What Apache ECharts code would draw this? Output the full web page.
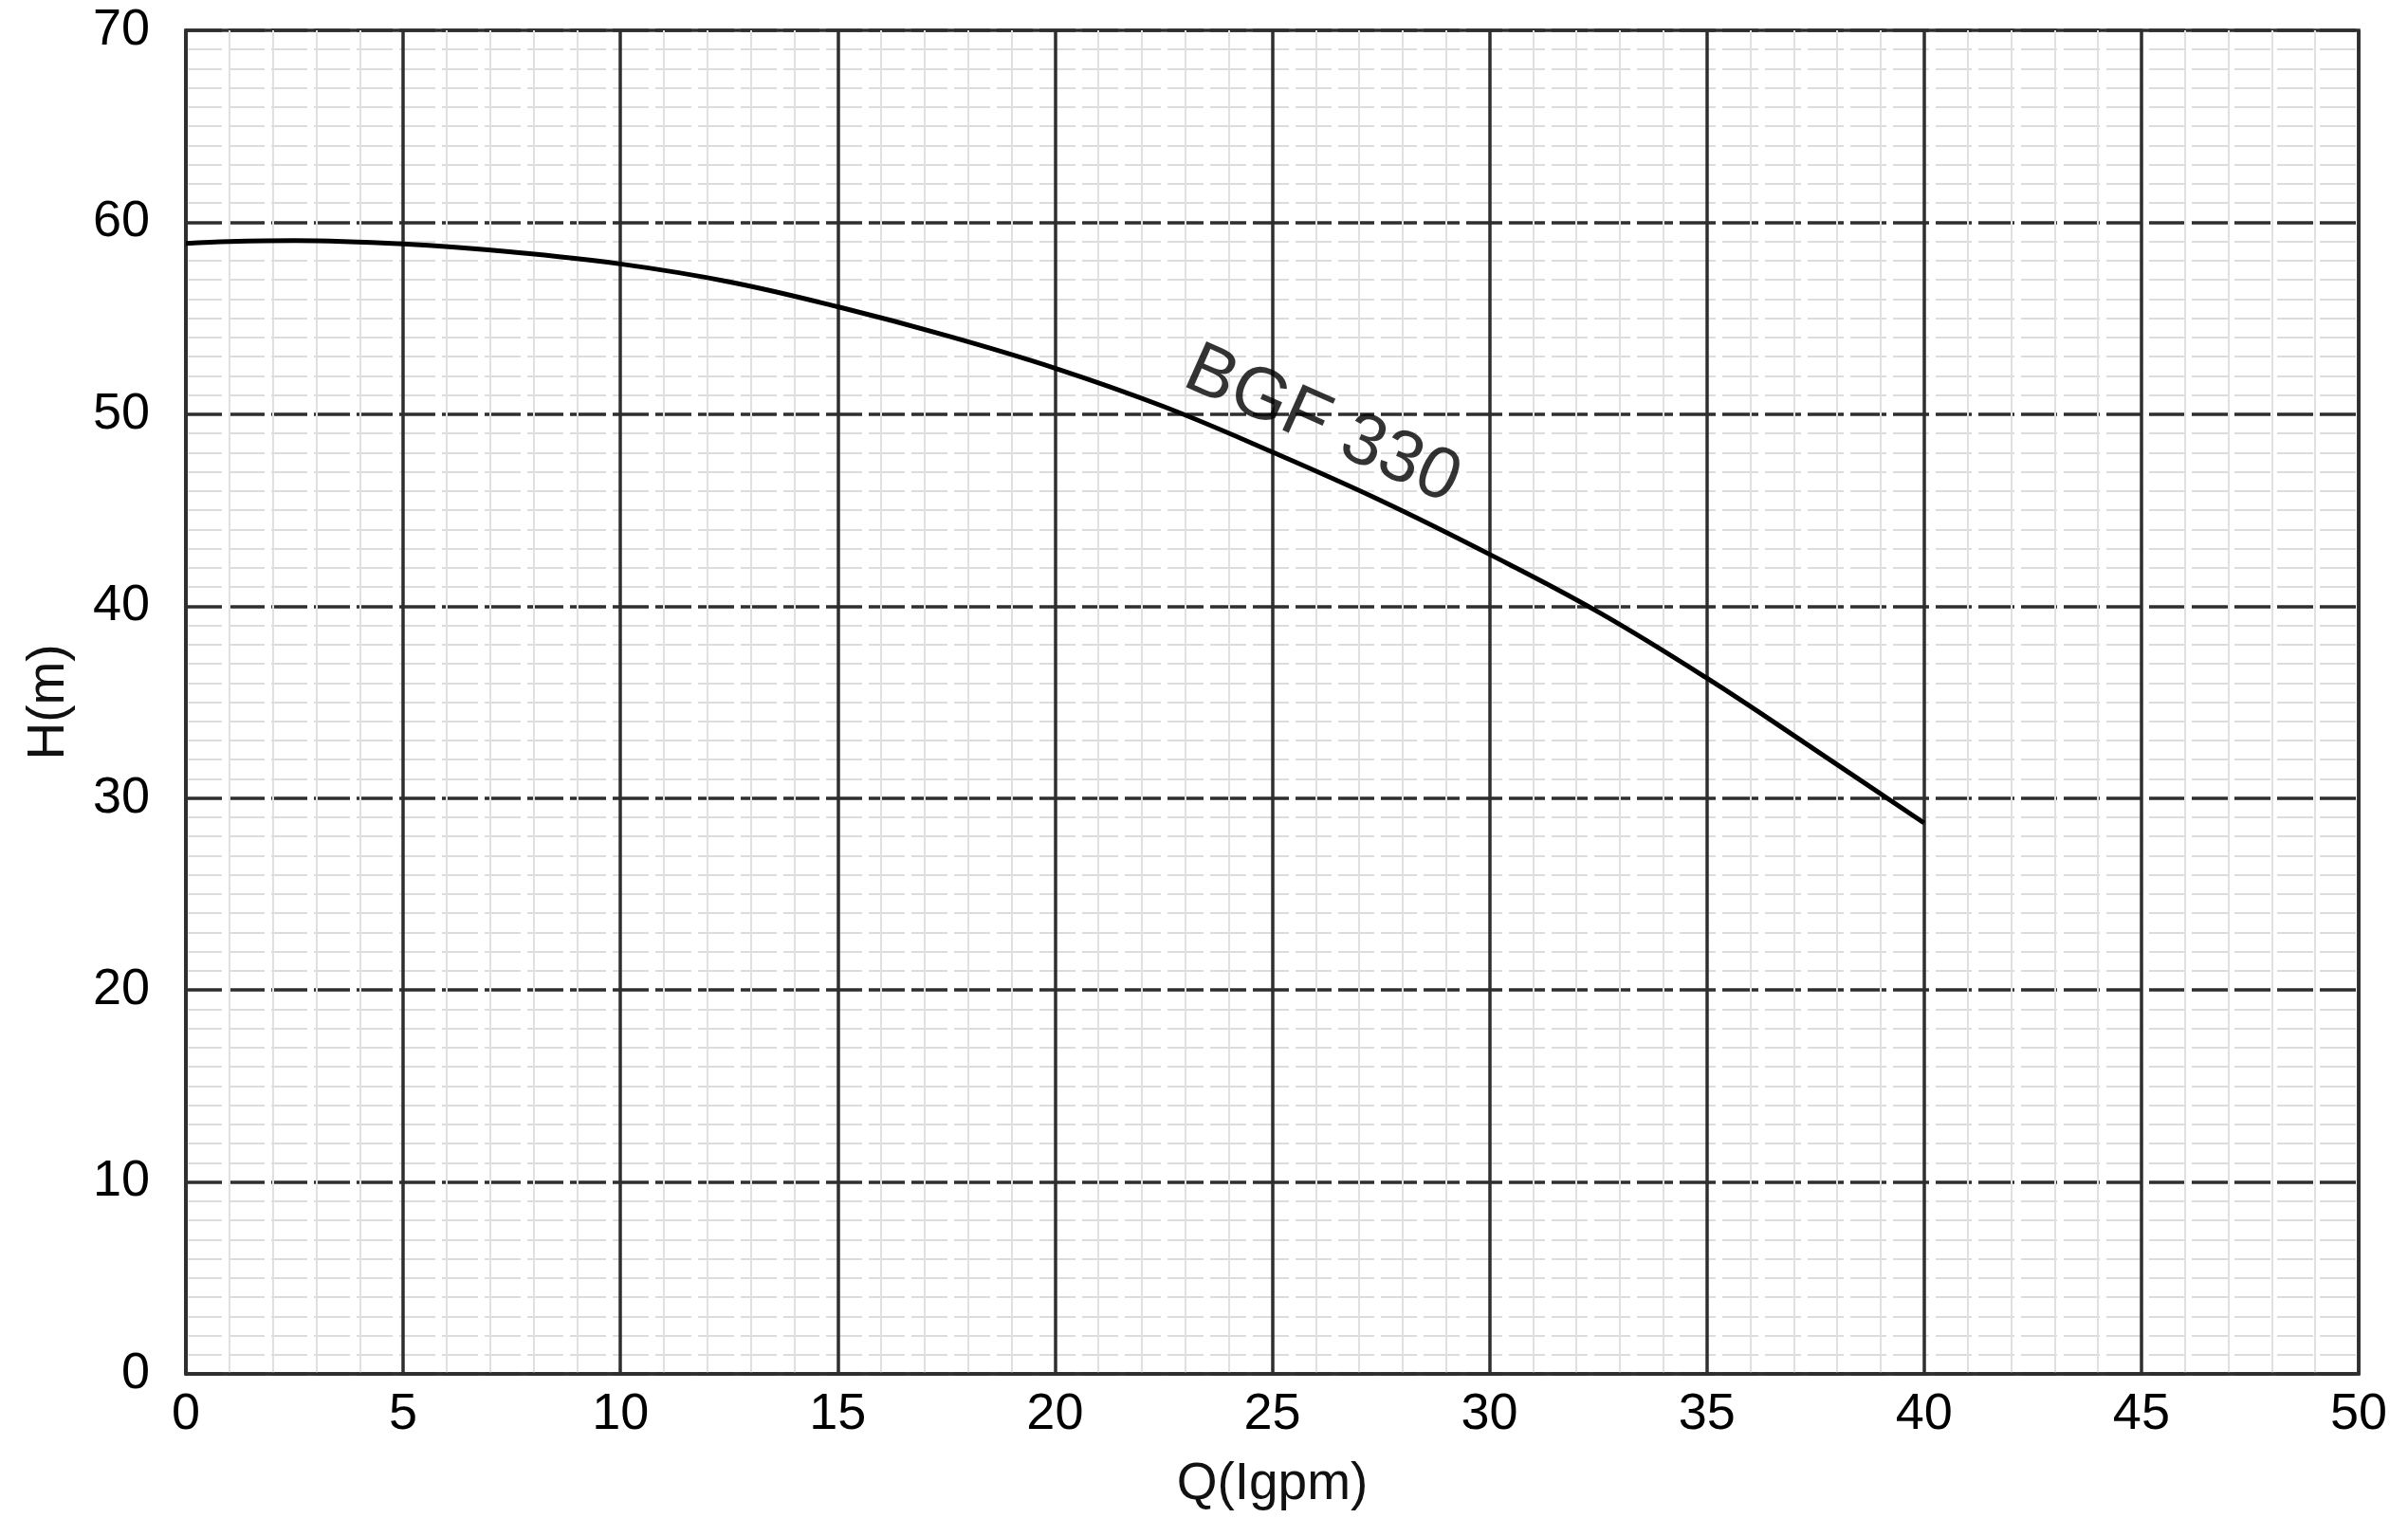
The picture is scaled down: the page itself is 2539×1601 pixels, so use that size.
<!DOCTYPE html>
<html>
<head>
<meta charset="utf-8">
<style>
html,body{margin:0;padding:0;background:#fff;}
#chart{width:2539px;height:1601px;}
</style>
<script src="https://cdn.jsdelivr.net/npm/echarts@6/dist/echarts.min.js"></script>
</head>
<body>
<div id="chart"></div>
<script>
// Data
const flowQ = [0, 1, 2.5, 5, 7.5, 10, 12.5, 15, 17.5, 20, 22.5, 25, 27.5, 30, 32.5, 35, 37.5, 40];
const headH = [58.9, 59.0, 59.05, 58.87, 58.45, 57.83, 56.9, 55.6, 54.1, 52.4, 50.4, 48.03, 45.5, 42.7, 39.7, 36.25, 32.5, 28.7];
const curveName = 'BGF 330';
const curveLabelAt = [26.15, 49.4];
const xName = 'Q(Igpm)';
const yName = 'H(m)';

const FONT = "'Liberation Sans', Arial, Helvetica, sans-serif";
const chart = echarts.init(document.getElementById('chart'));
chart.setOption({
  backgroundColor: '#ffffff',
  animation: false,
  grid: {
    left: 196, top: 32, width: 2291, height: 1417,
    show: true, borderColor: '#2e2e2e', borderWidth: 3.5, backgroundColor: 'transparent'
  },
  xAxis: {
    type: 'value', min: 0, max: 50, interval: 5,
    name: xName, nameLocation: 'middle', nameGap: 89,
    nameTextStyle: { fontFamily: FONT, fontSize: 55, color: '#111' },
    axisLine: { show: true, lineStyle: { color: '#2e2e2e', width: 3.5 } },
    axisTick: { show: false },
    axisLabel: { fontFamily: FONT, fontSize: 54, color: '#000', margin: 16 },
    splitLine: { show: true, lineStyle: { color: '#2e2e2e', width: 3.5 } },
    minorTick: { show: false, splitNumber: 5 },
    minorSplitLine: { show: true, lineStyle: { color: '#e0e0e0', width: 2 } }
  },
  yAxis: {
    type: 'value', min: 0, max: 70, interval: 10,
    name: yName, nameLocation: 'middle', nameGap: 117, nameRotate: 90,
    nameTextStyle: { fontFamily: FONT, fontSize: 55, color: '#111' },
    axisLine: { show: true, lineStyle: { color: '#2e2e2e', width: 3.5 } },
    axisTick: { show: false },
    axisLabel: { fontFamily: FONT, fontSize: 54, color: '#000', margin: 38 },
    splitLine: { show: true, lineStyle: { color: '#2e2e2e', width: 3.5, type: [38, 7] } },
    minorTick: { show: false, splitNumber: 10 },
    minorSplitLine: { show: true, lineStyle: { color: '#dcdcdc', width: 2, type: [38, 7] } }
  },
  series: [
    {
      type: 'line',
      data: flowQ.map((q, i) => [q, headH[i]]),
      smooth: 0.4,
      showSymbol: false,
      lineStyle: { color: '#000', width: 5 },
      z: 5
    },
    {
      type: 'scatter',
      data: [curveLabelAt],
      symbolSize: 0,
      silent: true,
      itemStyle: { color: 'transparent' },
      label: {
        show: true, position: 'inside', formatter: curveName, rotate: -24,
        fontFamily: FONT, fontSize: 77, color: '#000',
        textBorderWidth: 0, textBorderColor: 'transparent'
      },
      z: 6
    }
  ]
});
</script>
</body>
</html>
